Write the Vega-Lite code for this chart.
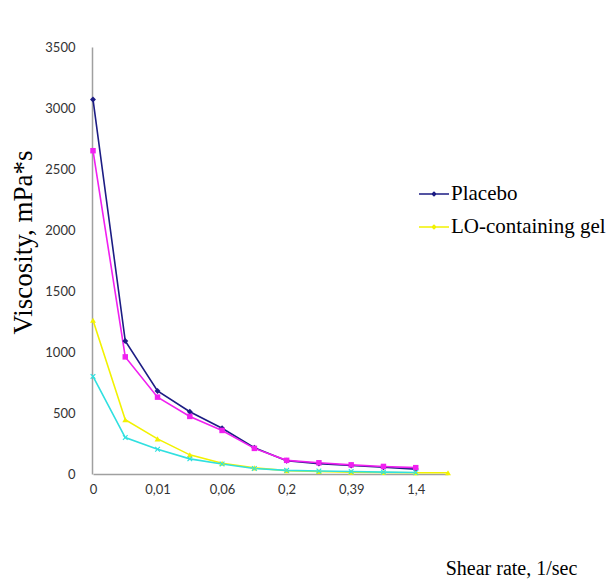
{
  "$schema": "https://vega.github.io/schema/vega-lite/v6.json",
  "width": 421,
  "height": 427,
  "autosize": "none",
  "padding": {"left": 92, "top": 47, "right": 96, "bottom": 109},
  "background": "white",
  "config": {"view": {"stroke": null}},
  "data": {
    "values": [
      {"rate": "0", "series": "Placebo", "viscosity": 3070},
      {"rate": "0,005", "series": "Placebo", "viscosity": 1090},
      {"rate": "0,01", "series": "Placebo", "viscosity": 680},
      {"rate": "0,03", "series": "Placebo", "viscosity": 510},
      {"rate": "0,06", "series": "Placebo", "viscosity": 375},
      {"rate": "0,1", "series": "Placebo", "viscosity": 215},
      {"rate": "0,2", "series": "Placebo", "viscosity": 108},
      {"rate": "0,3", "series": "Placebo", "viscosity": 85},
      {"rate": "0,39", "series": "Placebo", "viscosity": 70},
      {"rate": "0,8", "series": "Placebo", "viscosity": 55},
      {"rate": "1,4", "series": "Placebo", "viscosity": 40},
      {"rate": "0", "series": "Series 2", "viscosity": 2650},
      {"rate": "0,005", "series": "Series 2", "viscosity": 960},
      {"rate": "0,01", "series": "Series 2", "viscosity": 630},
      {"rate": "0,03", "series": "Series 2", "viscosity": 472},
      {"rate": "0,06", "series": "Series 2", "viscosity": 357},
      {"rate": "0,1", "series": "Series 2", "viscosity": 210},
      {"rate": "0,2", "series": "Series 2", "viscosity": 112},
      {"rate": "0,3", "series": "Series 2", "viscosity": 92},
      {"rate": "0,39", "series": "Series 2", "viscosity": 75},
      {"rate": "0,8", "series": "Series 2", "viscosity": 62},
      {"rate": "1,4", "series": "Series 2", "viscosity": 52},
      {"rate": "0", "series": "LO-containing gel", "viscosity": 1260},
      {"rate": "0,005", "series": "LO-containing gel", "viscosity": 445},
      {"rate": "0,01", "series": "LO-containing gel", "viscosity": 288},
      {"rate": "0,03", "series": "LO-containing gel", "viscosity": 157},
      {"rate": "0,06", "series": "LO-containing gel", "viscosity": 88},
      {"rate": "0,1", "series": "LO-containing gel", "viscosity": 50},
      {"rate": "0,2", "series": "LO-containing gel", "viscosity": 28},
      {"rate": "0,3", "series": "LO-containing gel", "viscosity": 20},
      {"rate": "0,39", "series": "LO-containing gel", "viscosity": 15},
      {"rate": "0,8", "series": "LO-containing gel", "viscosity": 12},
      {"rate": "1,4", "series": "LO-containing gel", "viscosity": 10},
      {"rate": "2", "series": "LO-containing gel", "viscosity": 10},
      {"rate": "0", "series": "Series 4", "viscosity": 800},
      {"rate": "0,005", "series": "Series 4", "viscosity": 299},
      {"rate": "0,01", "series": "Series 4", "viscosity": 203},
      {"rate": "0,03", "series": "Series 4", "viscosity": 124},
      {"rate": "0,06", "series": "Series 4", "viscosity": 82},
      {"rate": "0,1", "series": "Series 4", "viscosity": 45},
      {"rate": "0,2", "series": "Series 4", "viscosity": 30},
      {"rate": "0,3", "series": "Series 4", "viscosity": 25},
      {"rate": "0,39", "series": "Series 4", "viscosity": 20},
      {"rate": "0,8", "series": "Series 4", "viscosity": 15},
      {"rate": "1,4", "series": "Series 4", "viscosity": 12}
    ]
  },
  "encoding": {
    "x": {
      "field": "rate",
      "type": "ordinal",
      "sort": ["0", "0,005", "0,01", "0,03", "0,06", "0,1", "0,2", "0,3", "0,39", "0,8", "1,4", "2"],
      "scale": {"type": "point", "padding": 0, "range": [1, 356]},
      "axis": {
        "values": ["0", "0,01", "0,06", "0,2", "0,39", "1,4"],
        "labelAngle": 0,
        "labelFont": "Lato",
        "labelFontSize": 13,
        "labelColor": "#333333",
        "labelPadding": 9,
        "ticks": false,
        "domainColor": "#a0a0a0",
        "domainWidth": 1.5,
        "grid": false,
        "title": "Shear rate, 1/sec",
        "titleFont": "Liberation Serif",
        "titleFontSize": 20,
        "titleFontWeight": "normal",
        "titleColor": "#000000",
        "titleAnchor": null,
        "titleAlign": "center",
        "titleBaseline": "middle",
        "titleX": 419,
        "titleY": 94
      }
    },
    "y": {
      "field": "viscosity",
      "type": "quantitative",
      "scale": {"domain": [0, 3500], "nice": false},
      "axis": {
        "values": [0, 500, 1000, 1500, 2000, 2500, 3000, 3500],
        "format": "d",
        "labelFont": "Lato",
        "labelFontSize": 13,
        "labelColor": "#333333",
        "labelPadding": 17,
        "ticks": false,
        "domainColor": "#a0a0a0",
        "domainWidth": 1.5,
        "grid": false,
        "title": "Viscosity, mPa*s",
        "titleFont": "Liberation Serif",
        "titleFontSize": 27,
        "titleFontWeight": "normal",
        "titleColor": "#000000",
        "titleAnchor": null,
        "titleAlign": "center",
        "titleBaseline": "bottom",
        "titleAngle": -90,
        "titleX": -55,
        "titleY": 195
      }
    },
    "color": {
      "field": "series",
      "type": "nominal",
      "scale": {
        "domain": ["Placebo", "Series 2", "LO-containing gel", "Series 4"],
        "range": ["#1c1c84", "#f020f0", "#f2f200", "#30e0e0"]
      },
      "legend": {
        "values": ["Placebo", "LO-containing gel"],
        "orient": "none",
        "legendX": 326,
        "legendY": 131,
        "title": null,
        "symbolType": "M-1,0L1,0M0,-0.12L0.12,0L0,0.12L-0.12,0Z",
        "symbolSize": 900,
        "symbolStrokeWidth": 1.5,
        "labelFont": "Liberation Serif",
        "labelFontSize": 21,
        "labelColor": "#000000",
        "labelOffset": 1,
        "rowPadding": 7,
        "labelExpr": "datum.label == 'LO-containing gel' ? '\u2004LO-containing gel' : datum.label",
        "encode": {
          "symbols": {
            "update": {
              "fill": {"scale": "color", "field": "value"},
              "stroke": {"scale": "color", "field": "value"},
              "strokeWidth": {"value": 1.5},
              "opacity": {"value": 1}
            }
          }
        }
      }
    }
  },
  "layer": [
    {"mark": {"type": "line", "strokeWidth": 1.6}},
    {
      "transform": [{"filter": "datum.series == 'Placebo'"}],
      "mark": {"type": "point", "filled": true, "opacity": 1, "size": 35, "shape": "diamond"}
    },
    {
      "transform": [{"filter": "datum.series == 'Series 2'"}],
      "mark": {"type": "point", "filled": true, "opacity": 1, "size": 30, "shape": "square"}
    },
    {
      "transform": [{"filter": "datum.series == 'LO-containing gel'"}],
      "mark": {"type": "point", "filled": true, "opacity": 1, "size": 35, "shape": "triangle-up"}
    },
    {
      "transform": [{"filter": "datum.series == 'Series 4'"}],
      "mark": {"type": "point", "filled": true, "opacity": 1, "size": 30, "shape": "M-1,-0.7L-0.7,-1L0,-0.3L0.7,-1L1,-0.7L0.3,0L1,0.7L0.7,1L0,0.3L-0.7,1L-1,0.7L-0.3,0Z"}
    }
  ]
}
